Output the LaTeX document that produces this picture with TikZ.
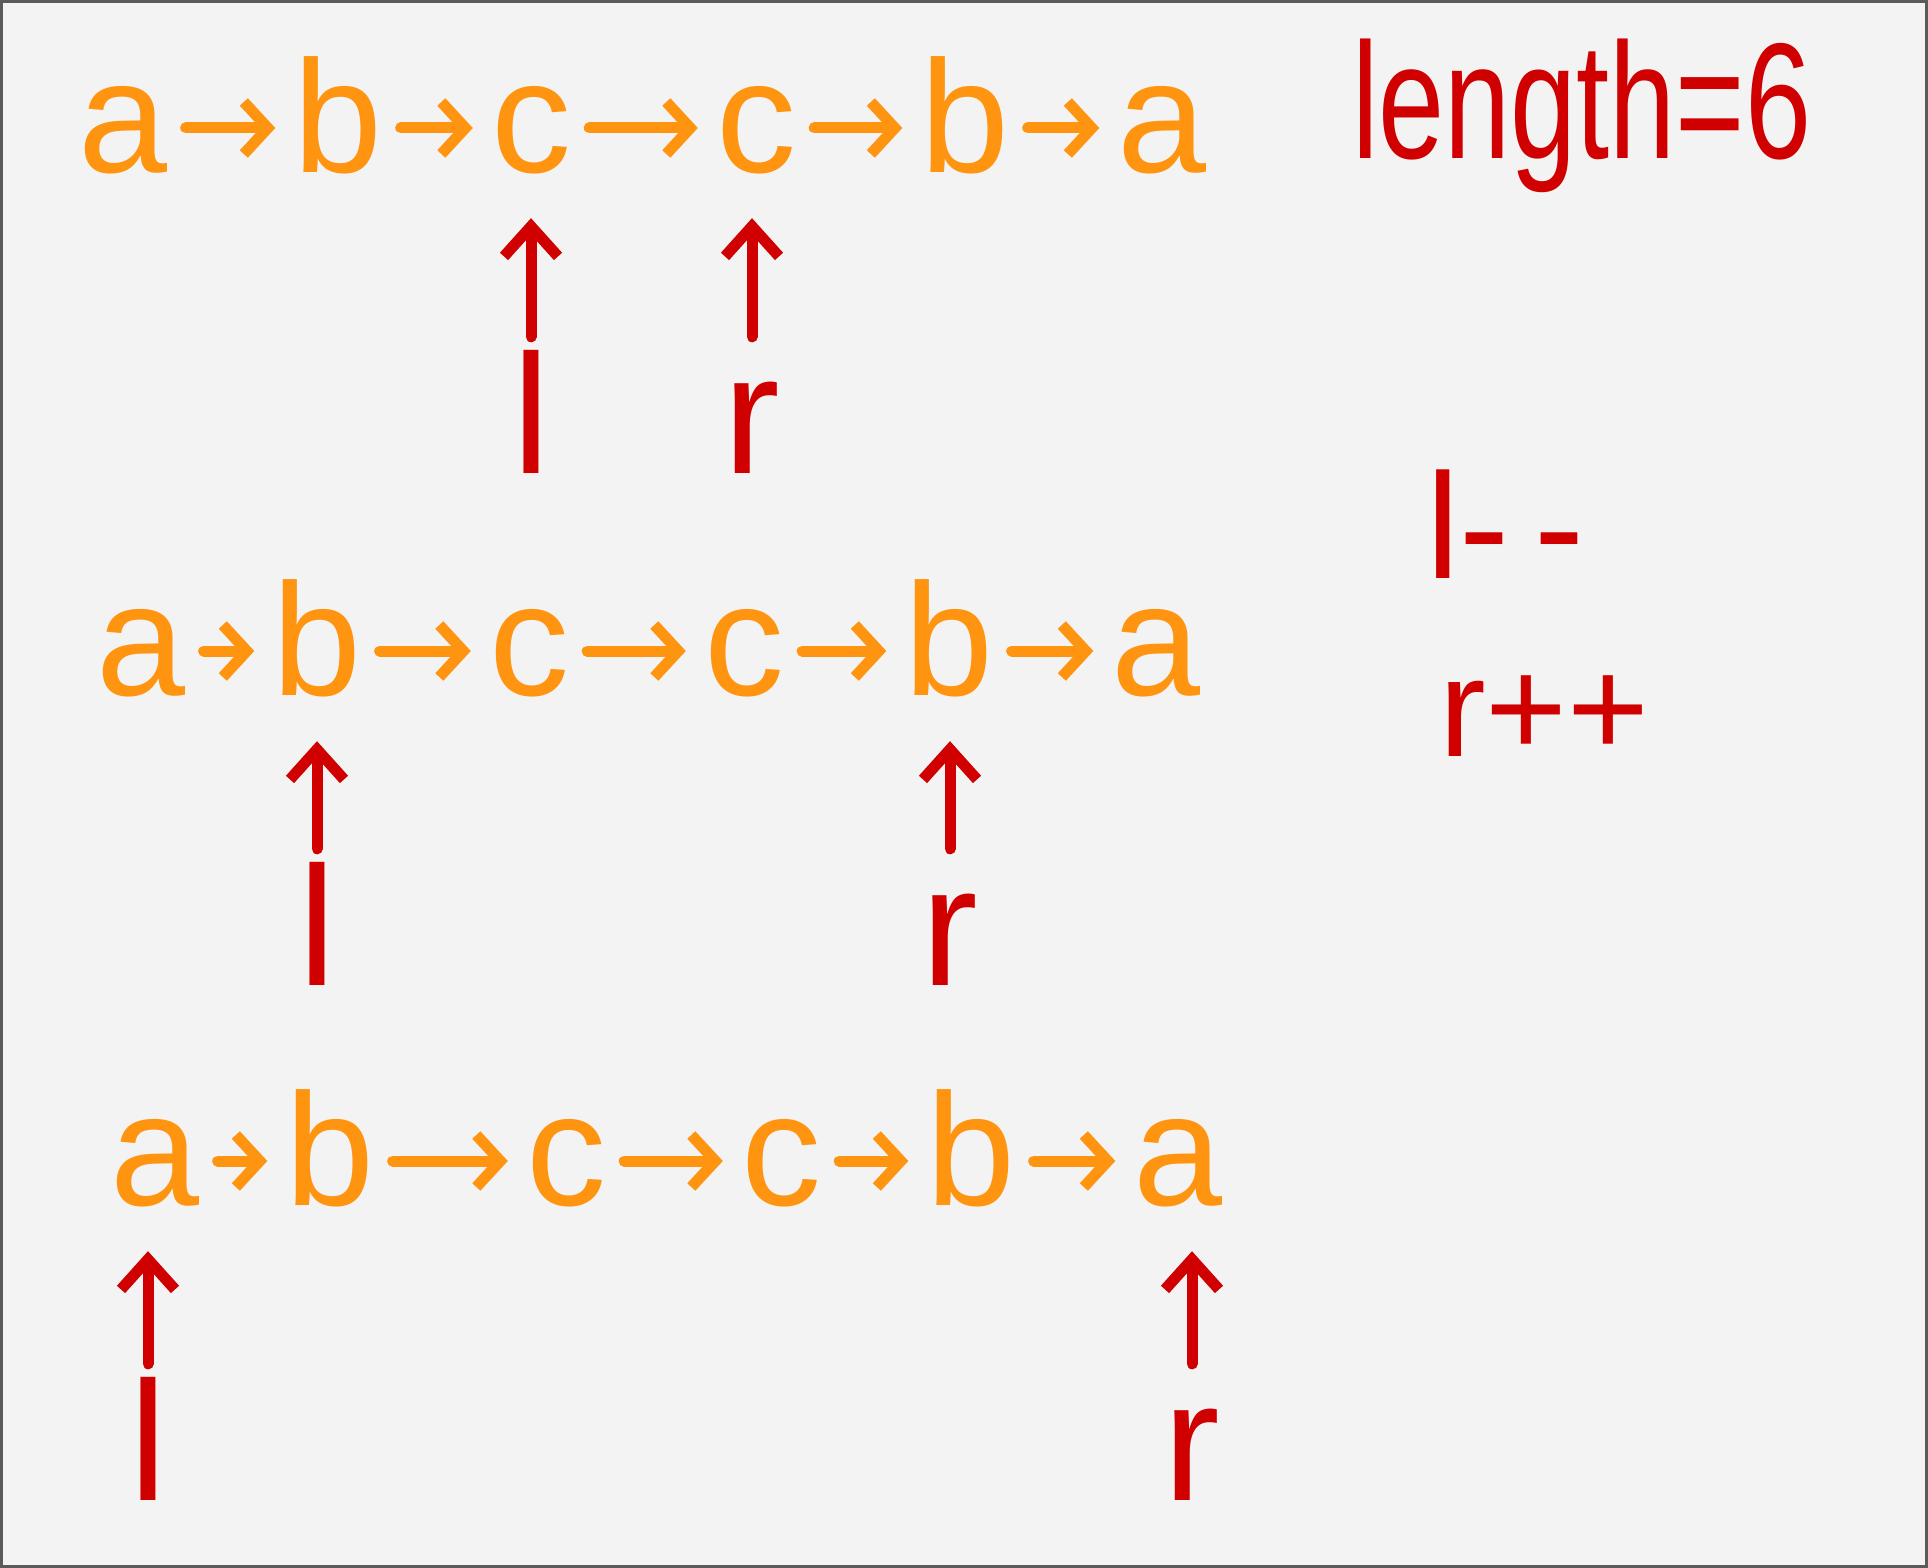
\documentclass[tikz,border=0pt]{standalone}
\usepackage{fontspec}
\setmainfont{Liberation Sans}
\usetikzlibrary{arrows.meta}
\definecolor{bg}{HTML}{F3F3F3}
\definecolor{org}{HTML}{FF9410}
\definecolor{rd}{HTML}{D00000}
\definecolor{frame}{HTML}{5A5A5A}
\begin{document}
\begin{tikzpicture}[x=1pt,y=-1pt,
  letter/.style={text=org, font=\fontsize{160}{160}\selectfont, text height=120pt, text depth=32pt, inner sep=0pt, anchor=base},
  chainarrow/.style={draw=org, line width=11pt, line cap=round, -{Straight Barb[length=24pt,width=52pt]}, shorten <=18pt, shorten >=18pt},
  lab/.style={text=rd, font=\fontsize{170}{170}\selectfont, text height=124pt, inner sep=0pt, anchor=base},
  ptr/.style={draw=rd, line width=11pt, line cap=round, -{Straight Barb[length=30pt,width=54pt]}, shorten <=12pt, shorten >=14pt},
  note/.style={text=rd, inner sep=0pt, anchor=base west}]
\fill[bg] (0,0) rectangle (1928,1568);
\draw[frame, line width=3pt] (1.5,1.5) rectangle (1926.5,1566.5);
\useasboundingbox (0,0) rectangle (1928,1568);

% row 1
\node[letter] (a1) at (123,172) {a};
\node[letter] (b1) at (338,172) {b};
\node[letter] (c1) at (531,172) {c};
\node[letter] (d1) at (756,172) {c};
\node[letter] (e1) at (965,172) {b};
\node[letter] (f1) at (1162,172) {a};
\draw[chainarrow] (a1) -- (b1);
\draw[chainarrow] (b1) -- (c1);
\draw[chainarrow] (c1) -- (d1);
\draw[chainarrow] (d1) -- (e1);
\draw[chainarrow] (e1) -- (f1);
\node[lab] (l1) at (531,473) {l};
\node[lab] (r1) at (752,473) {r};
\draw[ptr] (l1.north) -- (l1.north |- c1.south);
\draw[ptr] (r1.north) -- (r1.north |- d1.south);

% row 2
\node[letter] (a2) at (141,695) {a};
\node[letter] (b2) at (317,695) {b};
\node[letter] (c2) at (529,695) {c};
\node[letter] (d2) at (744,695) {c};
\node[letter] (e2) at (949,695) {b};
\node[letter] (f2) at (1156,695) {a};
\draw[chainarrow] (a2) -- (b2);
\draw[chainarrow] (b2) -- (c2);
\draw[chainarrow] (c2) -- (d2);
\draw[chainarrow] (d2) -- (e2);
\draw[chainarrow] (e2) -- (f2);
\node[lab] (l2) at (317,985) {l};
\node[lab] (r2) at (950,985) {r};
\draw[ptr] (l2.north) -- (l2.north |- b2.south);
\draw[ptr] (r2.north) -- (r2.north |- e2.south);

% row 3
\node[letter] (a3) at (155,1205) {a};
\node[letter] (b3) at (330,1205) {b};
\node[letter] (c3) at (566,1205) {c};
\node[letter] (d3) at (781,1205) {c};
\node[letter] (e3) at (971,1205) {b};
\node[letter] (f3) at (1178,1205) {a};
\draw[chainarrow] (a3) -- (b3);
\draw[chainarrow] (b3) -- (c3);
\draw[chainarrow] (c3) -- (d3);
\draw[chainarrow] (d3) -- (e3);
\draw[chainarrow] (e3) -- (f3);
\node[lab] (l3) at (148,1500) {l};
\node[lab] (r3) at (1192,1500) {r};
\draw[ptr] (l3.north) -- (l3.north |- a3.south);
\draw[ptr] (r3.north) -- (r3.north |- f3.south);

% notes
\node[note, font=\fontsize{165}{165}\selectfont, xscale=0.72, transform shape] (len) at (1352,158) {length=6};
\node[note, font=\fontsize{150}{150}\selectfont] (dec) at (1426,578) {l-\,-};
\node[note, font=\fontsize{140}{140}\selectfont] (inc) at (1439,756) {r++};
\end{tikzpicture}
\end{document}
